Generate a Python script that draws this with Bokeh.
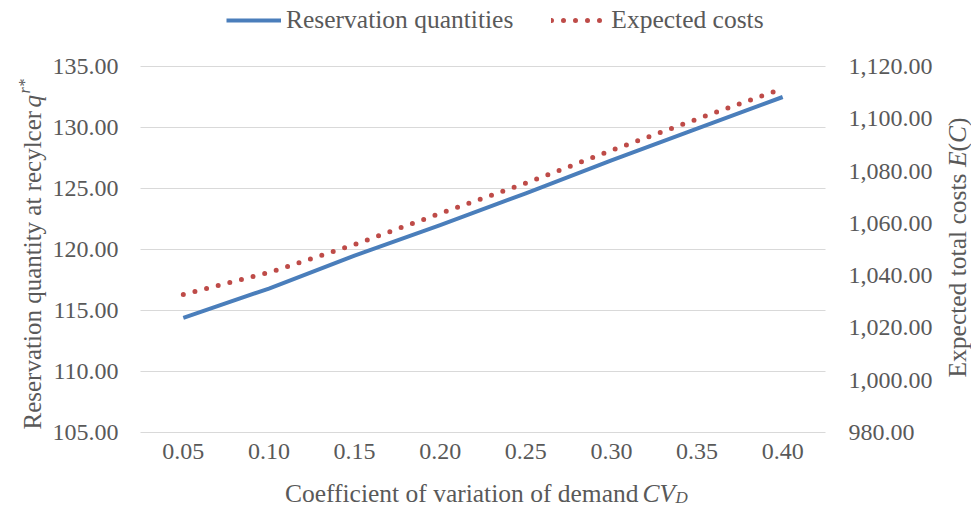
import math
from bokeh.plotting import figure
from bokeh.models import (Range1d, LinearAxis, FixedTicker, NumeralTickFormatter,
                          Label, Legend, LegendItem)
from bokeh.embed import file_html
from bokeh.resources import INLINE

# ---- data ----
cv_demand = [0.05, 0.10, 0.15, 0.20, 0.25, 0.30, 0.35, 0.40]
reservation_quantities = [114.4, 116.8, 119.5, 122.0, 124.6, 127.3, 129.9, 132.5]
expected_costs = [1032.8, 1041.2, 1051.9, 1063.8, 1075.4, 1087.9, 1099.9, 1111.6]
left_ticks = [105, 110, 115, 120, 125, 130, 135]
right_ticks = [980, 1000, 1020, 1040, 1060, 1080, 1100, 1120]

FONT = "Liberation Serif"
TXT = "#595959"
BLUE = "#4A7EBB"
RED = "#BE4B48"

W, H = 971, 513
# plot area (pixels from top-left) and its data extents
PL, PR, PT, PB = 140, 825, 66, 432
X0, X1 = 0.025, 0.425
Y0, Y1 = left_ticks[0], left_ticks[-1]
C0, C1 = right_ticks[0], right_ticks[-1]

kx = (X1 - X0) / (PR - PL)
ky = (Y1 - Y0) / (PB - PT)
kc = (C1 - C0) / (PB - PT)

p = figure(width=W, height=H, output_backend="svg", toolbar_location=None,
           x_range=Range1d(X0 - PL * kx, X1 + (W - PR) * kx),
           y_range=Range1d(Y0 - (H - PB) * ky, Y1 + PT * ky),
           min_border=0, min_border_left=0, min_border_right=0,
           min_border_top=0, min_border_bottom=0)
p.outline_line_color = None
p.background_fill_color = "white"
p.border_fill_color = "white"
p.extra_y_ranges = {"cost": Range1d(C0 - (H - PB) * kc, C1 + PT * kc)}
p.xgrid.visible = False
p.ygrid.visible = False

p.xaxis.ticker = FixedTicker(ticks=cv_demand)
p.xaxis.formatter = NumeralTickFormatter(format="0.00")
p.xaxis.fixed_location = Y0
p.yaxis.ticker = FixedTicker(ticks=left_ticks)
p.yaxis.formatter = NumeralTickFormatter(format="0.00")
p.yaxis.fixed_location = X0

raxis = LinearAxis(y_range_name="cost", ticker=FixedTicker(ticks=right_ticks),
                   formatter=NumeralTickFormatter(format="0,0.00"),
                   fixed_location=X1)
p.add_layout(raxis, "right")

for ax in [p.xaxis[0], p.yaxis[0], raxis]:
    ax.axis_line_color = None
    ax.major_tick_line_color = None
    ax.minor_tick_line_color = None
    ax.major_tick_out = 0
    ax.major_tick_in = 0
    ax.major_label_text_font = FONT
    ax.major_label_text_font_size = "24px"
    ax.major_label_text_color = TXT
p.xaxis[0].major_label_standoff = 11
p.yaxis[0].major_label_standoff = 22
raxis.major_label_standoff = 23

# horizontal gridlines at the left-axis ticks, across the plot area
p.segment(x0=[X0] * len(left_ticks), y0=left_ticks,
          x1=[X1] * len(left_ticks), y1=left_ticks,
          line_color="#D9D9D9", line_width=1)

r1 = p.line(cv_demand, reservation_quantities, line_color=BLUE, line_width=4,
            line_join="round")
r2 = p.line(cv_demand, expected_costs, y_range_name="cost", line_color=RED,
            line_width=5, line_dash="0 12", line_cap="round")

legend = Legend(items=[LegendItem(label="Reservation quantities", renderers=[r1]),
                       LegendItem(label="Expected costs", renderers=[r2])],
                orientation="horizontal", location=(226, H - 35),
                border_line_color=None, background_fill_alpha=0,
                label_text_font=FONT, label_text_font_size="25.5px",
                label_text_color=TXT, glyph_width=55, glyph_height=20,
                label_standoff=5, spacing=38, padding=0, margin=0)
p.add_layout(legend)


def lab(px, py, text, size="25.5px", style="normal", angle=0.0, align="left"):
    # px, py: pixels from the top-left corner of the picture
    p.add_layout(Label(x=px, y=H - py, x_units="screen", y_units="screen",
                       text=text, angle=angle, text_font=FONT,
                       text_font_size=size, text_font_style=style,
                       text_color=TXT, text_align=align,
                       text_baseline="alphabetic"))


A = math.pi / 2
# x-axis title: Coefficient of variation of demand CV_D
lab(638, 493, "Coefficient of variation of demand", align="right")
lab(642, 493, "CV", style="italic")
lab(675, 497, "D", size="17px", style="italic")

# left title: Reservation quantity at recylcer q^{r*}
lab(32, 429, "Reservation quantity at recylcer", size="25px", angle=A)
lab(32, 107, "q", size="25px", style="italic", angle=A)
lab(24, 93, "r*", size="16px", style="italic", angle=A)

# right title: Expected total costs E(C)
lab(957, 377, "Expected total costs", angle=A)
lab(957, 166.6, "E", style="italic", angle=A)
lab(957, 151, "(", angle=A)
lab(957, 142.5, "C", style="italic", angle=A)
lab(957, 125.5, ")", angle=A)

open("out.html", "w").write(file_html(p, INLINE))
